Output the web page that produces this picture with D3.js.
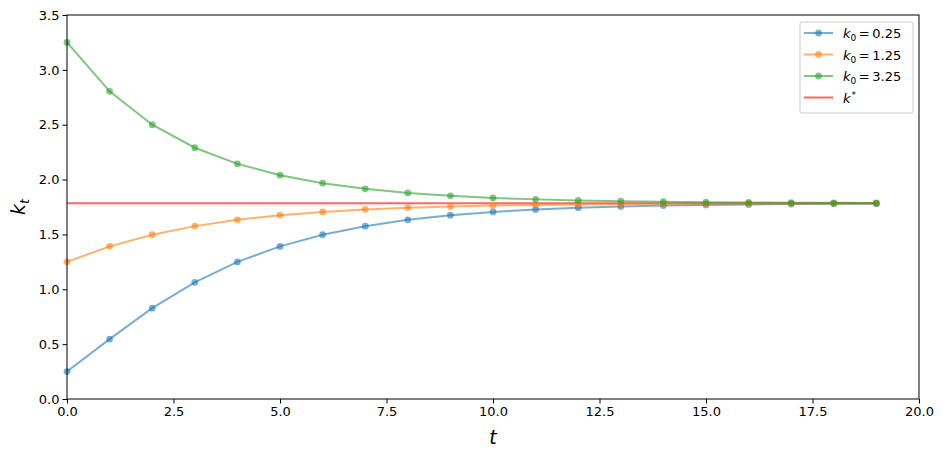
<!DOCTYPE html>
<html lang="en">
<head>
  <meta charset="UTF-8">
  <script src="https://d3js.org/d3.v7.min.js"></script>
  <title>k_t convergence</title>
  <style>
    body { margin: 0; background: #fff; }
    text { font-family: "DejaVu Sans", sans-serif; }
  </style>
</head>
<body>
  <div id="chart"></div>
  <script>
    const periods = d3.range(0, 20);
    const k_low = [0.25, 0.5459, 0.8279, 1.0637, 1.2494, 1.3911, 1.4971, 1.5755, 1.6330, 1.6749,
      1.7053, 1.7274, 1.7434, 1.7549, 1.7632, 1.7692, 1.7735, 1.7766, 1.7789, 1.7805];
    const k_mid = [1.25, 1.3915, 1.4975, 1.5758, 1.6333, 1.6751, 1.7055, 1.7276, 1.7435, 1.7550,
      1.7633, 1.7693, 1.7736, 1.7767, 1.7790, 1.7806, 1.7818, 1.7826, 1.7832, 1.7837];
    const k_high = [3.25, 2.8045, 2.5003, 2.2900, 2.1433, 2.0402, 1.9672, 1.9154, 1.8784, 1.8520,
      1.8331, 1.8195, 1.8097, 1.8027, 1.7977, 1.7941, 1.7915, 1.7896, 1.7883, 1.7873];
    const k_star = 1.785;
    const series_names = ["0.25", "1.25", "3.25"];
    const x_ticks = [0, 2.5, 5, 7.5, 10, 12.5, 15, 17.5, 20];
    const y_ticks = [0, 0.5, 1, 1.5, 2, 2.5, 3, 3.5];

    const width = 944, height = 458;
    const m_left = 67, m_right = 919, m_top = 15, m_bottom = 399;
    const colors = ["#1f77b4", "#ff7f0e", "#2ca02c"];
    const alpha = 0.6;

    const svg = d3.select("#chart").append("svg")
      .attr("width", width)
      .attr("height", height);

    const x = d3.scaleLinear().domain([0, 20]).range([m_left, m_right]);
    const y = d3.scaleLinear().domain([0, 3.5]).range([m_bottom, m_top]);

    // k* line first, under the paths
    svg.append("line")
      .attr("x1", x(0)).attr("x2", x(periods[periods.length - 1]))
      .attr("y1", y(k_star)).attr("y2", y(k_star))
      .attr("stroke", "red").attr("stroke-opacity", alpha)
      .attr("stroke-width", 2);

    const line = d3.line().x((d, i) => x(periods[i])).y(d => y(d));
    [k_low, k_mid, k_high].forEach((vals, s) => {
      const g = svg.append("g");
      g.append("path")
        .attr("d", line(vals))
        .attr("fill", "none")
        .attr("stroke", colors[s])
        .attr("stroke-opacity", alpha)
        .attr("stroke-width", 2);
      g.selectAll("circle")
        .data(vals)
        .enter()
        .append("circle")
        .attr("cx", (d, i) => x(periods[i]))
        .attr("cy", d => y(d))
        .attr("r", 3.4)
        .attr("fill", colors[s])
        .attr("fill-opacity", alpha);
    });

    // axes
    const xAxis = svg.append("g")
      .attr("transform", "translate(0," + m_bottom + ")")
      .call(d3.axisBottom(x).tickValues(x_ticks).tickFormat(d3.format(".1f")).tickSize(4.5).tickPadding(3));
    const yAxis = svg.append("g")
      .attr("transform", "translate(" + m_left + ",0)")
      .call(d3.axisLeft(y).tickValues(y_ticks).tickFormat(d3.format(".1f")).tickSize(4.5).tickPadding(3));
    [xAxis, yAxis].forEach(a => {
      a.selectAll("text").attr("font-size", 13).attr("fill", "#000")
        .style("font-family", "DejaVu Sans");
      a.selectAll("line").attr("stroke", "#000");
      a.select(".domain").remove();
    });

    svg.append("rect")
      .attr("x", m_left).attr("y", m_top)
      .attr("width", m_right - m_left).attr("height", m_bottom - m_top)
      .attr("fill", "none").attr("stroke", "#000").attr("stroke-width", 1);

    // axis labels
    svg.append("text")
      .attr("x", (m_left + m_right) / 2).attr("y", 444)
      .attr("text-anchor", "middle")
      .attr("font-size", 19).attr("font-style", "italic")
      .text("t");
    const yl = svg.append("text")
      .attr("transform", "translate(25," + ((m_top + m_bottom) / 2) + ") rotate(-90)")
      .attr("text-anchor", "middle")
      .attr("font-size", 19).attr("font-style", "italic");
    yl.append("tspan").text("k");
    yl.append("tspan").attr("font-size", 13).attr("dy", 4).text("t");

    // legend
    const lg = svg.append("g").attr("transform", "translate(800,22)");
    lg.append("rect")
      .attr("width", 113).attr("height", 91).attr("rx", 2)
      .attr("fill", "#fff").attr("fill-opacity", 0.8)
      .attr("stroke", "#ccc");
    const entries = series_names.map((n, i) => ({ name: n, color: colors[i], marker: true }));
    entries.push({ name: null, color: "red", marker: false });
    entries.forEach((e, i) => {
      const yy = 11 + i * 21.5;
      lg.append("line")
        .attr("x1", 4).attr("x2", 33).attr("y1", yy).attr("y2", yy)
        .attr("stroke", e.color).attr("stroke-opacity", alpha).attr("stroke-width", 2);
      if (e.marker) {
        lg.append("circle").attr("cx", 18.5).attr("cy", yy).attr("r", 3.4)
          .attr("fill", e.color).attr("fill-opacity", alpha);
      }
      const t = lg.append("text").attr("x", 43).attr("y", yy + 5).attr("font-size", 13);
      if (e.name) {
        t.append("tspan").attr("font-style", "italic").text("k");
        t.append("tspan").attr("font-size", 9).attr("dy", 3).text("0");
        t.append("tspan").attr("dy", -3).text("\u2009=\u2009" + e.name);
      } else {
        t.append("tspan").attr("font-style", "italic").text("k");
        t.append("tspan").attr("font-size", 9).attr("dx", 1).attr("dy", -5).text("*");
      }
    });
  </script>
</body>
</html>
